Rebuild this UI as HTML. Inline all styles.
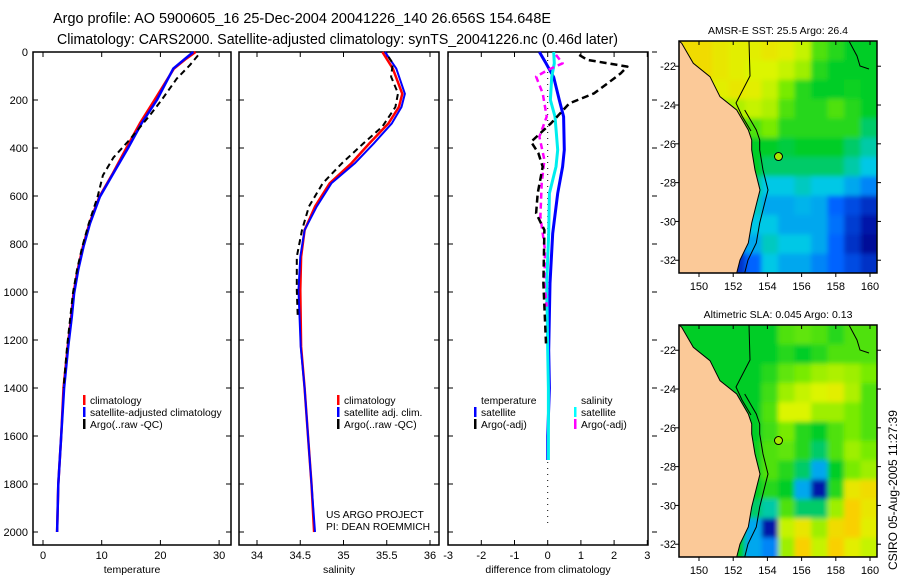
<!DOCTYPE html>
<html><head><meta charset="utf-8"><style>
body{margin:0;background:#fff;}
svg{display:block;font-family:"Liberation Sans",sans-serif;}
text{fill:#000;}
</style></head><body>
<svg id="fig" width="900" height="580" viewBox="0 0 900 580">
<defs>
<filter id="blur" x="-5%" y="-5%" width="110%" height="110%"><feGaussianBlur stdDeviation="2.5"/></filter>
<clipPath id="clip1"><rect x="679" y="41" width="198" height="232"/></clipPath>
<clipPath id="clip2"><rect x="679" y="325" width="198" height="232"/></clipPath>
</defs>
<text x="53" y="23" font-size="14.3" textLength="498" lengthAdjust="spacingAndGlyphs">Argo profile: AO 5900605_16 25-Dec-2004 20041226_140 26.656S 154.648E</text>
<text x="57" y="44" font-size="14.3" textLength="561" lengthAdjust="spacingAndGlyphs">Climatology: CARS2000. Satellite-adjusted climatology: synTS_20041226.nc (0.46d later)</text>
<g id="g"></g>
<text transform="translate(897,570) rotate(-90)" font-size="12">CSIRO 05-Aug-2005 11:27:39</text>
</svg>
<script>
// ---- data ----
const tDepth=[0,28,69,200,297,400,505,603,714,811,908,1006,1103,1228,1400,1600,1800,2000];
const tSat=[25.6,24.2,22.2,19.4,16.8,14.5,12.0,9.7,8.0,6.9,6.0,5.3,4.9,4.3,3.6,3.1,2.6,2.4];
const tClim=[26.0,24.4,22.3,19.0,16.5,14.2,11.9,9.6,7.9,6.8,5.9,5.2,4.8,4.2,3.5,3.1,2.6,2.4];
const tArgoDepth=[14,55,111,200,264,364,440,514,603,714,811,908,1006,1228,1400];
const tArgo=[26.4,25.0,22.8,20.2,18.2,14.8,12.0,10.2,9.3,7.8,6.7,5.8,5.1,4.1,3.5];
const sDepth=[0,69,174,229,297,381,464,547,644,742,853,992,1228,1400,1600,1800,2000];
const sSat=[35.48,35.61,35.71,35.67,35.56,35.35,35.13,34.86,34.69,34.55,34.50,34.48,34.505,34.55,34.59,34.63,34.67];
const sClim=[35.45,35.57,35.68,35.64,35.52,35.30,35.09,34.84,34.67,34.55,34.51,34.50,34.51,34.55,34.59,34.63,34.66];
const sArgoDepth=[20,47,103,172,229,311,381,464,547,644,742,853,992,1100];
const sArgo=[35.52,35.57,35.55,35.63,35.60,35.45,35.23,34.98,34.76,34.60,34.52,34.46,34.46,34.47];
const dTsDepth=[0,47,105,200,269,408,478,589,756,964,1242,1400,1600,1700];
const dTSat=[-0.25,-0.05,0.18,0.35,0.48,0.5,0.45,0.3,0.15,0.07,0.03,0.05,0,0];
const dSSat=[0.18,0.2,0.12,0.08,0.22,0.3,0.25,0.05,0.03,-0.03,0.0,0.02,0.02,0.02];
const dTArgoDepth=[12,33,61,89,131,172,214,297,374,422,478,589,672,742,964,1214];
const dTArgo=[0.95,1.2,2.4,2.2,1.8,1.4,0.65,0.1,-0.5,-0.28,-0.15,-0.3,-0.35,-0.1,-0.13,-0.05];
const dSArgoDepth=[12,47,75,103,172,269,353,450,547,686,825,964,1061];
const dSArgo=[0.25,0.45,0.0,-0.35,-0.15,-0.03,-0.25,-0.1,-0.18,-0.22,-0.08,-0.1,-0.03];
const depthTicks=[0,200,400,600,800,1000,1200,1400,1600,1800,2000];
const tTicks=[0,10,20,30];
const sTicks=[34,34.5,35,35.5,36];
const dTicks=[-3,-2,-1,0,1,2,3];
const latTicks=[-22,-24,-26,-28,-30,-32];
const lonTicks=[150,152,154,156,158,160];
const sstGrid=[
[.85,.85,.82,.8,.8,.82,.8,.75,.6,.55,.5,.5],
[.85,.85,.82,.8,.78,.78,.75,.7,.55,.5,.5,.5],
[.8,.8,.8,.82,.8,.75,.65,.55,.5,.5,.52,.5],
[.75,.75,.72,.72,.75,.72,.6,.55,.55,.6,.55,.5],
[.7,.7,.7,.6,.6,.65,.55,.55,.55,.55,.55,.45],
[.6,.6,.5,.5,.5,.5,.48,.5,.5,.5,.45,.4],
[.5,.5,.5,.5,.5,.45,.45,.45,.45,.45,.4,.35],
[.45,.45,.45,.45,.42,.35,.35,.38,.35,.35,.3,.25],
[.4,.4,.4,.4,.38,.3,.3,.32,.3,.2,.15,.1],
[.3,.3,.3,.35,.35,.35,.3,.3,.3,.22,.12,.05],
[.25,.25,.25,.22,.3,.38,.35,.35,.3,.2,.1,.02],
[.1,.1,.15,.1,.2,.35,.3,.3,.25,.2,.15,.1]];
const slaGrid=[
[.5,.5,.5,.5,.5,.5,.6,.62,.6,.55,.6,.6],
[.5,.5,.5,.5,.5,.5,.55,.5,.55,.6,.6,.6],
[.5,.5,.5,.5,.5,.55,.62,.65,.7,.72,.7,.65],
[.5,.5,.5,.5,.5,.58,.7,.75,.78,.8,.72,.6],
[.5,.5,.5,.5,.5,.6,.78,.78,.7,.7,.65,.6],
[.5,.5,.5,.5,.5,.58,.65,.55,.5,.6,.65,.6],
[.5,.5,.5,.5,.52,.6,.62,.55,.45,.6,.7,.65],
[.5,.5,.5,.5,.52,.6,.55,.45,.3,.5,.65,.7],
[.5,.5,.5,.5,.5,.55,.5,.3,.05,.55,.82,.85],
[.5,.5,.5,.5,.45,.4,.6,.45,.45,.7,.88,.82],
[.5,.5,.5,.5,.3,.05,.75,.82,.7,.85,.88,.8],
[.5,.5,.5,.5,.3,.25,.7,.88,.75,.88,.8,.75]];
const floatLon=154.648, floatLat=-26.656;

const NS="http://www.w3.org/2000/svg";
const G=document.getElementById('g');
function mk(tag,at,parent){const e=document.createElementNS(NS,tag);for(const k in at)e.setAttribute(k,at[k]);(parent||G).appendChild(e);return e;}
function txt(x,y,s,anchor,size){const t=mk('text',{x:x,y:y,'font-size':size||10.5,'text-anchor':anchor||'start'});t.textContent=s;return t;}

const Y0=52,Yk=0.24; const yD=d=>Y0+Yk*d;
const panels=[
 {x0:33,x1:231,f:v=>43+5.87*v,ticks:tTicks,lab:'temperature',name:'temperature-panel'},
 {x0:239,x1:439,f:v=>257+86.5*(v-34),ticks:sTicks,lab:'salinity',name:'salinity-panel'},
 {x0:448,x1:648,f:v=>547.7+33.2*v,ticks:dTicks,lab:'difference from climatology',name:'difference-panel'}];
panels.forEach((p,i)=>{
 const fr=mk('rect',{x:p.x0,y:52,width:p.x1-p.x0,height:493,fill:'none',stroke:'#000','stroke-width':1.5});
 
 
 p.ticks.forEach(v=>{const x=p.f(v);
  mk('line',{x1:x,x2:x,y1:545,y2:540,stroke:'#000'});mk('line',{x1:x,x2:x,y1:52,y2:57,stroke:'#000'});
  const t=txt(x,559,String(v),'middle',11);
  
  });
 depthTicks.forEach(d=>{const y=yD(d);
  mk('line',{x1:p.x0,x2:p.x0+5,y1:y,y2:y,stroke:'#000'});
  if(i<2)mk('line',{x1:p.x1,x2:p.x1-5,y1:y,y2:y,stroke:'#000'});
  else mk('line',{x1:p.x1+4,x2:p.x1+9,y1:y,y2:y,stroke:'#000'});
  if(i==0){const t=txt(28,y+4,String(d),'end',11);
   
   }});
 const xl=txt((p.x0+p.x1)/2,573,p.lab,'middle');
 
 
});
function line(p,depths,vals,color,w,dash,name){
 const pts=depths.map((d,k)=>p.f(vals[k]).toFixed(1)+','+yD(d).toFixed(1)).join(' ');
 const l=mk('polyline',{points:pts,fill:'none',stroke:color,'stroke-width':w,'stroke-dasharray':dash||'none','stroke-linejoin':'round'});
 
 
}
line(panels[0],tDepth,tClim,'#f00',2.5,null,'temperature-climatology-line');
line(panels[0],tDepth,tSat,'#00f',2.5,null,'temperature-satellite-line');
line(panels[0],tArgoDepth,tArgo,'#000',2,'6,4','temperature-argo-line');
line(panels[1],sDepth,sClim,'#f00',2.5,null,'salinity-climatology-line');
line(panels[1],sDepth,sSat,'#00f',2,null,'salinity-satellite-line');
line(panels[1],sArgoDepth,sArgo,'#000',2,'6,4','salinity-argo-line');
mk('line',{x1:547.7,x2:547.7,y1:60,y2:525,stroke:'#000','stroke-dasharray':'1,5'});
line(panels[2],dTsDepth,dTSat,'#00f',3,null,'temp-diff-satellite-line');
line(panels[2],dTsDepth,dSSat,'#0ee',3,null,'sal-diff-satellite-line');
line(panels[2],dSArgoDepth,dSArgo,'#f0f',2.5,'6,4','sal-diff-argo-line');
line(panels[2],dTArgoDepth,dTArgo,'#000',2.5,'7,4','temp-diff-argo-line');

function legend(x,y,items){items.forEach((it,k)=>{const yy=y+k*12;
 if(it[1]){mk('rect',{x:x,y:yy-9,width:2.5,height:10,fill:it[1]});}
 const t=txt(x+7,yy,it[0],'start',10.3);
 
 });}
legend(83,404,[['climatology','#f00'],['satellite-adjusted climatology','#00f'],['Argo(..raw -QC)','#000']]);
legend(337,404,[['climatology','#f00'],['satellite adj. clim.','#00f'],['Argo(..raw -QC)','#000']]);
legend(474,404,[['temperature',null],['satellite','#00f'],['Argo(-adj)','#000']]);
legend(574,404,[['salinity',null],['satellite','#0ff'],['Argo(-adj)','#f0f']]);
const u1=txt(326,518,'US ARGO PROJECT','start',10.3);
const u2=txt(326,530,'PI: DEAN ROEMMICH','start',10.3);

// ---- maps ----
const cstops=[[0,[0,0,140]],[.2,[0,100,255]],[.35,[0,200,230]],[.5,[0,205,40]],[.65,[120,235,0]],[.78,[220,245,0]],[.9,[255,200,0]],[1,[240,130,0]]];
function cmap(v){for(let i=1;i<cstops.length;i++){if(v<=cstops[i][0]){const a=cstops[i-1],b=cstops[i],t=(v-a[0])/(b[0]-a[0]);return 'rgb('+a[1].map((c,j)=>Math.round(c+(b[1][j]-c)*t)).join(',')+')';}}return 'rgb(240,130,0)';}
const coast=[[0,0],[2.7,2.3],[14.3,22.3],[31,35.7],[41,55.7],[57.7,69],[69.3,89],[72.7,99],[72.7,109],[76,129],[81,149],[77.7,162],[72.7,182],[69.3,202],[61,219],[57.7,232],[0,232]];
function map(top,grid,title,name,clip){
 const L=679,W=198,H=232,lon0=148.83,lat0=-20.7,px=17.1,py=19.4;
 const gx=lon=>L+(lon-lon0)*px, gy=lat=>top+(lat0-lat)*py;
 const grp=mk('g',{});
 const cg=mk('g',{'clip-path':'url(#'+clip+')'},grp);
 const bg=mk('g',{filter:'url(#blur)'},cg);
 const cw=W/grid[0].length,ch=H/grid.length;
 grid.forEach((row,r)=>row.forEach((v,c)=>{
  const cell=mk('rect',{x:(L+c*cw-(c==0?10:0)).toFixed(1),y:(top+r*ch-(r==0?10:0)).toFixed(1),width:(cw+0.6+(c==0||c==row.length-1?10:0)).toFixed(1),height:(ch+0.6+(r==0||r==grid.length-1?10:0)).toFixed(1),fill:cmap(v)},bg);
  
  }));
 const land=mk('polygon',{points:coast.map(p=>(L+p[0])+','+(top+p[1])).join(' '),fill:'#fbc998',stroke:'#000','stroke-width':1},cg);
 
 
 mk('polyline',{points:coast.slice(5,16).map(p=>(L+p[0]+8)+','+(top+p[1])).join(' ')+' '+(L+56)+','+(top+232),fill:'none',stroke:'#000','stroke-width':1},cg);
 mk('polyline',{points:[[70,0],[71,35],[57,62],[63,75],[72,90]].map(p=>(L+p[0])+','+(top+p[1])).join(' '),fill:'none',stroke:'#000','stroke-width':1},cg);
 mk('polyline',{points:[[170,0],[178,15],[181,25],[190,28]].map(p=>(L+p[0])+','+(top+p[1])).join(' '),fill:'none',stroke:'#000','stroke-width':1},cg);
 const fl=mk('circle',{cx:gx(floatLon),cy:gy(floatLat),r:4,fill:'#a8e600',stroke:'#000','stroke-width':1},grp);
 
 
 mk('rect',{x:L,y:top,width:W,height:H,fill:'none',stroke:'#000','stroke-width':1.5},grp);
 latTicks.forEach(v=>{const y=gy(v);mk('line',{x1:L-4,x2:L,y1:y,y2:y,stroke:'#000'},grp);mk('line',{x1:L+W,x2:L+W+4,y1:y,y2:y,stroke:'#000'},grp);
  const t=txt(676,y+4,String(v),'end',11);});
 lonTicks.forEach(v=>{const x=gx(v);mk('line',{x1:x,x2:x,y1:top+H,y2:top+H+4,stroke:'#000'},grp);mk('line',{x1:x,x2:x,y1:top,y2:top+4,stroke:'#000'},grp);
  const t=txt(x,top+H+17,String(v),'middle',11);});
 const tt=txt(778,top-7,title,'middle',10.5);
}
map(41,sstGrid,'AMSR-E SST: 25.5 Argo: 26.4','sst-map','clip1');
map(325,slaGrid,'Altimetric SLA: 0.045 Argo: 0.13','sla-map','clip2');
</script>
</body></html>
